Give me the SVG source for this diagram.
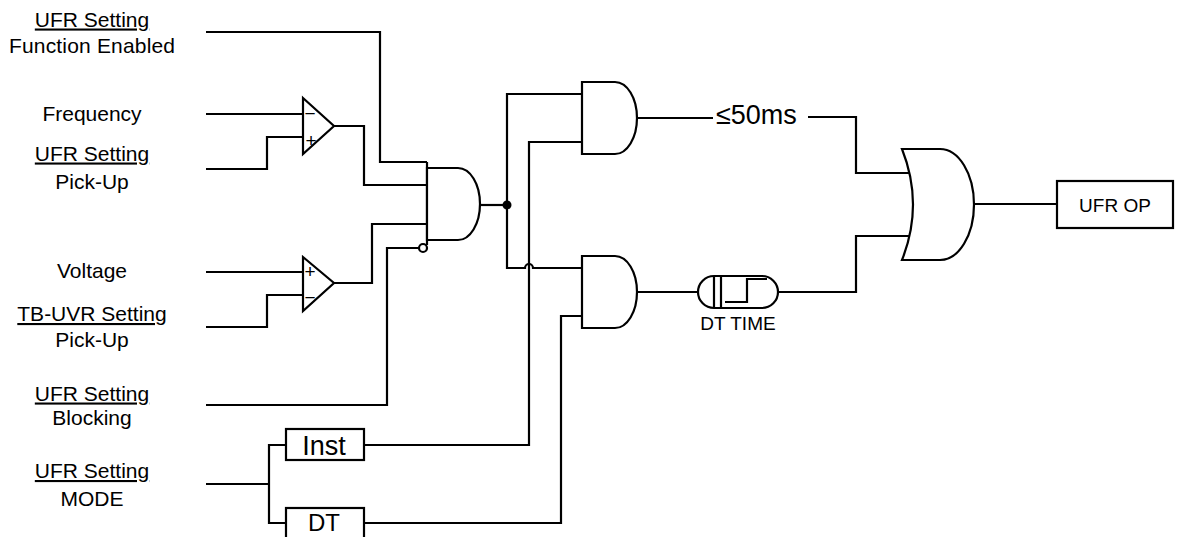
<svg xmlns="http://www.w3.org/2000/svg" width="1181" height="537" viewBox="0 0 1181 537">
<style>
.w{fill:none;stroke:#000;stroke-width:2.2;stroke-linejoin:miter}
.g{fill:#fff;stroke:#000;stroke-width:2.2}
.t{font-family:"Liberation Sans",Arial,sans-serif;font-size:21px;fill:#000;text-anchor:middle}
.u{text-decoration:underline}
.s{font-family:"Liberation Sans",Arial,sans-serif;font-size:19px;fill:#000;text-anchor:middle}
</style>
<rect width="1181" height="537" fill="#fff"/>
<g id="labels">
<text class="t u" x="92" y="26.5">UFR Setting</text>
<text class="t" x="92" y="53" textLength="166" lengthAdjust="spacing">Function Enabled</text>
<text class="t" x="92" y="121">Frequency</text>
<text class="t u" x="92" y="160.5">UFR Setting</text>
<text class="t" x="92" y="189">Pick-Up</text>
<text class="t" x="92" y="278">Voltage</text>
<text class="t u" x="92" y="321">TB-UVR Setting</text>
<text class="t" x="92" y="347">Pick-Up</text>
<text class="t u" x="92" y="400.5">UFR Setting</text>
<text class="t" x="92" y="425">Blocking</text>
<text class="t u" x="92" y="478">UFR Setting</text>
<text class="t" x="92" y="506">MODE</text>
</g>
<g id="connectors">
<path class="w" d="M206,32 H380 V162 H427"/>
<path class="w" d="M206,114 H303"/>
<path class="w" d="M206,169 H267 V137 H303"/>
<path class="w" d="M334,126 H364 V185 H427"/>
<path class="w" d="M206,272 H303"/>
<path class="w" d="M206,327 H267 V295 H303"/>
<path class="w" d="M334,283 H372 V224 H427"/>
<path class="w" d="M206,405 H387 V248 H419"/>
<path class="w" d="M427,162 V245"/>
<path class="w" d="M480,205 H507"/>
<path class="w" d="M582,94 H507 V268 H525 A4,4 0 0 1 533,268 H582"/>
<path class="w" d="M364,445 H529 V142 H582"/>
<path class="w" d="M364,523 H561 V316 H582"/>
<path class="w" d="M206,484 H269"/>
<path class="w" d="M286,445 H269 V523 H286"/>
<path class="w" d="M637,118 H713"/>
<path class="w" d="M808,117 H856 V173 H909.5"/>
<path class="w" d="M637,292 H698"/>
<path class="w" d="M778,292 H856 V236 H909.5"/>
<path class="w" d="M974,204 H1057"/>
<circle cx="507" cy="205" r="4.5" fill="#000"/>
<text x="716" y="124" font-family="'Liberation Sans',Arial,sans-serif" font-size="27">≤50ms</text>
</g>
<g id="cmp-freq">
<path class="g" d="M303,98 L334,126 L303,154 Z"/>
<text class="s" x="310" y="120">−</text>
<text class="s" x="311" y="147">+</text>
</g>
<g id="cmp-volt">
<path class="g" d="M303,257 L334,283 L303,311 Z"/>
<text class="s" x="310" y="278">+</text>
<text class="s" x="310" y="304">−</text>
</g>
<g id="and1">
<path class="g" d="M427,168 H458 A22,36 0 0 1 458,240 H427 Z"/>
<circle class="g" cx="423" cy="248" r="4"/>
</g>
<g id="and2">
<path class="g" d="M582,82 H615 A22,36 0 0 1 615,154 H582 Z"/>
</g>
<g id="and3">
<path class="g" d="M582,256 H615 A22,36 0 0 1 615,328 H582 Z"/>
</g>
<g id="dt-time">
<rect class="g" x="698" y="276" width="80" height="32" rx="16"/>
<path class="w" d="M714,277 V307 M721,277 V307 M725,302 H747 V279 H767"/>
<text class="t" x="738" y="330" style="font-size:19px">DT TIME</text>
</g>
<g id="or1">
<path class="g" d="M902,149 H940 A34,55.5 0 0 1 940,260 H902 Q924,204.5 902,149 Z"/>
</g>
<g id="ufr-op">
<rect class="g" x="1057" y="181" width="116" height="47"/>
<text class="t" x="1115" y="212" style="font-size:19px">UFR OP</text>
</g>
<g id="inst">
<rect class="g" x="286" y="429" width="78" height="31"/>
<text class="t" x="324" y="455" style="font-size:27px">Inst</text>
</g>
<g id="dt">
<rect class="g" x="286" y="508" width="78" height="36"/>
<text class="t" x="324" y="531" style="font-size:24px">DT</text>
</g>
</svg>
